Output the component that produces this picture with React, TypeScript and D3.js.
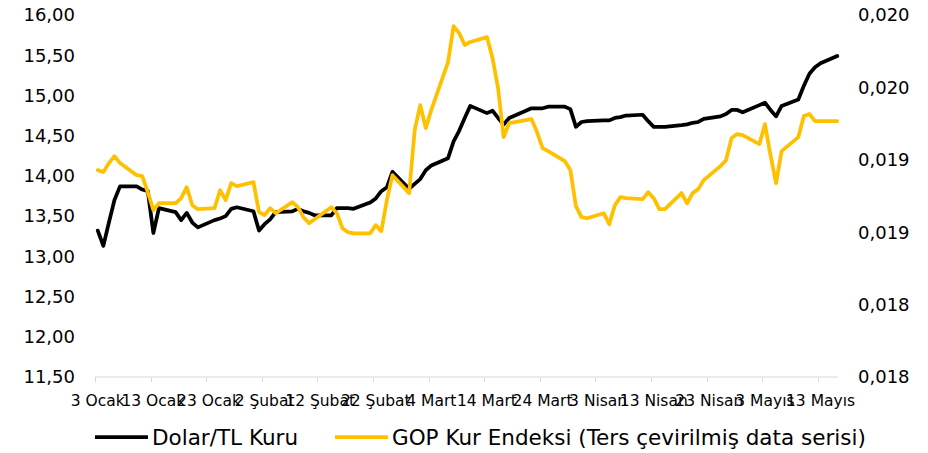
import React from 'react';
import * as d3 from 'd3';

// business days, 2022
const dates = [
  '2022-01-03', '2022-01-04', '2022-01-05', '2022-01-06', '2022-01-07',
  '2022-01-10', '2022-01-11', '2022-01-12', '2022-01-13', '2022-01-14',
  '2022-01-17', '2022-01-18', '2022-01-19', '2022-01-20', '2022-01-21',
  '2022-01-24', '2022-01-25', '2022-01-26', '2022-01-27', '2022-01-28',
  '2022-01-31', '2022-02-01', '2022-02-02', '2022-02-03', '2022-02-04',
  '2022-02-07', '2022-02-08', '2022-02-09', '2022-02-10', '2022-02-11',
  '2022-02-14', '2022-02-15', '2022-02-16', '2022-02-17', '2022-02-18',
  '2022-02-21', '2022-02-22', '2022-02-23', '2022-02-24', '2022-02-25',
  '2022-02-28', '2022-03-01', '2022-03-02', '2022-03-03', '2022-03-04',
  '2022-03-07', '2022-03-08', '2022-03-09', '2022-03-10', '2022-03-11',
  '2022-03-14', '2022-03-15', '2022-03-16', '2022-03-17', '2022-03-18',
  '2022-03-21', '2022-03-22', '2022-03-23', '2022-03-24', '2022-03-25',
  '2022-03-28', '2022-03-29', '2022-03-30', '2022-03-31', '2022-04-01',
  '2022-04-04', '2022-04-05', '2022-04-06', '2022-04-07', '2022-04-08',
  '2022-04-11', '2022-04-12', '2022-04-13', '2022-04-14', '2022-04-15',
  '2022-04-18', '2022-04-19', '2022-04-20', '2022-04-21', '2022-04-22',
  '2022-04-25', '2022-04-26', '2022-04-27', '2022-04-28', '2022-04-29',
  '2022-05-02', '2022-05-03', '2022-05-04', '2022-05-05', '2022-05-06',
  '2022-05-09', '2022-05-10', '2022-05-11', '2022-05-12', '2022-05-13',
  '2022-05-16',
];

const dolarTL = [
  13.32, 13.13, 13.42, 13.70, 13.87,
  13.87, 13.83, 13.81, 13.29, 13.60,
  13.55, 13.45, 13.54, 13.42, 13.36,
  13.45, 13.47, 13.50, 13.59, 13.61,
  13.56, 13.32, 13.40, 13.46, 13.55,
  13.56, 13.59, 13.56, 13.54, 13.51,
  13.51, 13.60, 13.60, 13.60, 13.59,
  13.67, 13.72, 13.81, 13.86, 14.05,
  13.84, 13.90, 13.96, 14.07, 14.13,
  14.22, 14.43, 14.56, 14.72, 14.87,
  14.78, 14.81, 14.72, 14.64, 14.72,
  14.81, 14.84, 14.84, 14.84, 14.86,
  14.86, 14.83, 14.61, 14.67, 14.68,
  14.69, 14.69, 14.72, 14.73, 14.75,
  14.76, 14.68, 14.61, 14.61, 14.61,
  14.63, 14.64, 14.66, 14.67, 14.71,
  14.74, 14.77, 14.82, 14.82, 14.79,
  14.88, 14.91, 14.82, 14.74, 14.87,
  14.95, 15.12, 15.27, 15.35, 15.40,
  15.49,
];

// GOP Kur Endeksi, inverted series (secondary axis)
const gopIndex = [
  0.019143, 0.019132, 0.019182, 0.019220, 0.019182,
  0.019115, 0.019110, 0.019021, 0.018922, 0.018960,
  0.018960, 0.018988, 0.019049, 0.018949, 0.018927,
  0.018933, 0.019032, 0.018977, 0.019071, 0.019054,
  0.019077, 0.018911, 0.018894, 0.018933, 0.018905,
  0.018966, 0.018938, 0.018883, 0.018850, 0.018872,
  0.018938, 0.018905, 0.018822, 0.018800, 0.018794,
  0.018794, 0.018839, 0.018806, 0.018977, 0.019115,
  0.019016, 0.019364, 0.019502, 0.019375, 0.019476,
  0.019740, 0.019939, 0.019900, 0.019834, 0.019851,
  0.019878, 0.019762, 0.019596, 0.019325, 0.019403,
  0.019419, 0.019425, 0.019353, 0.019265, 0.019248,
  0.019193, 0.019143, 0.018944, 0.018883, 0.018877,
  0.018905, 0.018844, 0.018949, 0.018994, 0.018988,
  0.018983, 0.019021, 0.018988, 0.018927, 0.018927,
  0.019016, 0.018960, 0.019016, 0.019038, 0.019088,
  0.019165, 0.019198, 0.019320, 0.019342, 0.019336,
  0.019287, 0.019397, 0.019226, 0.019071, 0.019248,
  0.019325, 0.019442, 0.019453, 0.019414, 0.019414,
  0.019414,
];

const tickDates = [
  '2022-01-03', '2022-01-13', '2022-01-23', '2022-02-02', '2022-02-12',
  '2022-02-22', '2022-03-04', '2022-03-14', '2022-03-24', '2022-04-03',
  '2022-04-13', '2022-04-23', '2022-05-03', '2022-05-13',
];
const tickLabels = [
  '3 Ocak', '13 Ocak', '23 Ocak', '2 Şubat', '12 Şubat',
  '22 Şubat', '4 Mart', '14 Mart', '24 Mart', '3 Nisan',
  '13 Nisan', '23 Nisan', '3 Mayıs', '13 Mayıs',
];
const leftTicks = [11.5, 12, 12.5, 13, 13.5, 14, 14.5, 15, 15.5, 16];
const rightTicks = [0.018, 0.0184, 0.0188, 0.0192, 0.0196, 0.02];

const seriesNames = ['Dolar/TL Kuru', 'GOP Kur Endeksi (Ters çevirilmiş data serisi)'];

const width = 928;
const height = 453;
const font = "'DejaVu Sans', Verdana, sans-serif";

const parse = d3.utcParse('%Y-%m-%d');
const trLocale = d3.formatLocale({ decimal: ',', thousands: '.', grouping: [3], currency: ['', ' TL'] });
const fmtLeft = trLocale.format('.2f');
const fmtRight = trLocale.format('.3f');

export default function App() {
  const x = d3.scaleUtc()
    .domain([parse('2022-01-03')!, parse('2022-05-17')!])
    .range([95, 840]);
  const yLeft = d3.scaleLinear().domain([11.5, 16]).range([377, 15]);
  const yRight = d3.scaleLinear().domain([0.018, 0.02]).range([377, 15]);

  // points sit in the middle of each day band
  const mid = (s: string) => x(d3.utcHour.offset(parse(s)!, 12));

  const blackLine = d3.line<number>()
    .x((_, i) => mid(dates[i]))
    .y(d => yLeft(d));
  const yellowLine = d3.line<number>()
    .x((_, i) => mid(dates[i]))
    .y(d => yRight(d));

  const axisY = yLeft(11.5);

  return (
    <svg width={width} height={height} style={{ position: 'absolute', left: 0, top: 0, background: '#fff' }}
      fontFamily={font}>
      {/* x axis */}
      <line x1={x.range()[0]} x2={838} y1={axisY} y2={axisY} stroke="#d9d9d9" strokeWidth={1} />
      {tickDates.map((t, i) => {
        const tx = Math.round(x(parse(t)!)) + 0.5;
        return <g key={t}>
          <line x1={tx} x2={tx} y1={axisY} y2={axisY + 5} stroke="#d9d9d9" />
          <text x={mid(t)} y={406} fontSize={15.5} textAnchor="middle" fill="#000">{tickLabels[i]}</text>
        </g>
      })}

      {/* left axis */}
      {leftTicks.map(v => (
        <text key={v} x={75} y={yLeft(v)} dy="0.35em" fontSize={18} textAnchor="end" fill="#000">{fmtLeft(v)}</text>
      ))}
      {/* right axis */}
      {rightTicks.map(v => (
        <text key={v} x={858} y={yRight(v)} dy="0.35em" fontSize={18} textAnchor="start" fill="#000">{fmtRight(v)}</text>
      ))}

      <path d={blackLine(dolarTL) || ''} fill="none" stroke="#000" strokeWidth={3.75}
        strokeLinejoin="round" strokeLinecap="round" />
      <path d={yellowLine(gopIndex) || ''} fill="none" stroke="#FFC000" strokeWidth={3.75}
        strokeLinejoin="round" strokeLinecap="round" />

      {/* legend */}
      <g fontSize={21.5}>
        <line x1={95} x2={148} y1={437} y2={437} stroke="#000" strokeWidth={3.75} />
        <text x={152} y={437} dy="0.35em" fill="#000">{seriesNames[0]}</text>
        <line x1={335} x2={388} y1={437} y2={437} stroke="#FFC000" strokeWidth={3.75} />
        <text x={392} y={437} dy="0.35em" fill="#000">{seriesNames[1]}</text>
      </g>
    </svg>
  );
}
